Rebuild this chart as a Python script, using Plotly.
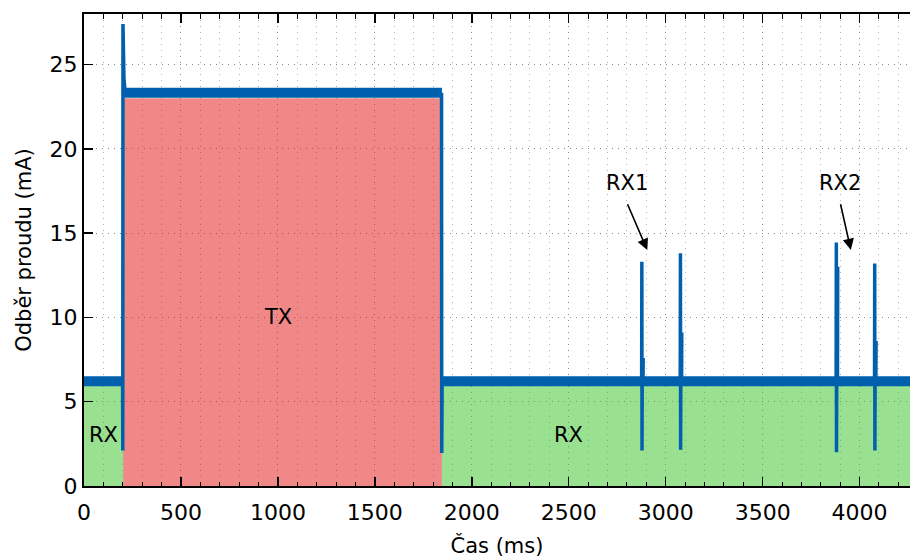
import plotly.graph_objects as go

# ---------------- data ----------------
# operating phases: name, start/end time (ms), fill height (mA), mean current (mA)
phase_names = ["RX", "TX", "RX"]
phase_start_ms = [0, 202, 1846]
phase_end_ms = [202, 1846, 4260]
phase_fill_ma = [6.0, 23.0, 6.0]
phase_current_ma = [6.22, 23.33, 6.22]

# transient at TX switch-on
tx_on_ms = [199, 200, 201, 203, 206, 212]
tx_on_ma = [6.22, 2.1, 27.4, 25.8, 24.2, 23.33]
# transient at TX switch-off
tx_off_ms = [1844, 1845, 1847]
tx_off_ma = [23.33, 1.96, 6.22]

# short receive windows (spikes)
spike_ms = [2877, 3076, 3880, 4078]
spike_max_ma = [13.3, 13.8, 14.45, 13.2]
spike_min_ma = [2.1, 2.15, 2.0, 2.1]
spike_bump_ma = [7.6, 9.1, 13.0, 8.6]

# annotations
label_text = ["RX", "TX", "RX", "RX1", "RX2"]
label_x_ms = [100, 1000, 2500, 2800, 3900]
label_y_ma = [3, 10, 3, 18, 18]
arrow_tail_x = [2800, 3900]
arrow_tail_y = [16.8, 16.8]
arrow_head_x = [2905, 3955]
arrow_head_y = [14.0, 14.0]

x_ticks = [0, 500, 1000, 1500, 2000, 2500, 3000, 3500, 4000]
y_ticks = [0, 5, 10, 15, 20, 25]

BLUE = "#0060ad"
FILL = {"RX": "rgba(52,196,34,0.5)", "TX": "rgba(226,18,18,0.5)"}
FONT = "DejaVu Sans"

fig = go.Figure()

# phase fills
for name, s, e, lvl in zip(phase_names, phase_start_ms, phase_end_ms, phase_fill_ma):
    fig.add_trace(go.Scatter(
        x=[s, e], y=[lvl, lvl], mode="lines", fill="tozeroy",
        fillcolor=FILL[name], line=dict(width=0), hoverinfo="skip",
        showlegend=False))

# thick noisy current band (plateaus)
band_x, band_y = [], []
for s, e, c in zip(phase_start_ms, phase_end_ms, phase_current_ma):
    band_x += [s, e, None]
    band_y += [c, c, None]
fig.add_trace(go.Scatter(x=band_x, y=band_y, mode="lines",
                         line=dict(color=BLUE, width=10), showlegend=False))

# transients + spikes (thin)
tr_x = list(tx_on_ms) + [None] + list(tx_off_ms) + [None]
tr_y = list(tx_on_ma) + [None] + list(tx_off_ma) + [None]
base = phase_current_ma[-1]
for t, mx, mn, bp in zip(spike_ms, spike_max_ma, spike_min_ma, spike_bump_ma):
    tr_x += [t - 1, t, t + 1, t + 2, None, t + 6, t + 7, None]
    tr_y += [base, mx, mn, base, None, base, bp, None]
fig.add_trace(go.Scatter(x=tr_x, y=tr_y, mode="lines",
                         line=dict(color=BLUE, width=3.5), showlegend=False))

annotations = []
for txt, x, y in zip(label_text, label_x_ms, label_y_ma):
    annotations.append(dict(x=x, y=y, xref="x", yref="y", text=txt,
                            showarrow=False, font=dict(family=FONT, size=21, color="black")))
for tx, ty, hx, hy in zip(arrow_tail_x, arrow_tail_y, arrow_head_x, arrow_head_y):
    annotations.append(dict(x=hx, y=hy, ax=tx, ay=ty, xref="x", yref="y",
                            axref="x", ayref="y", text="", showarrow=True,
                            arrowhead=2, arrowsize=1.4, arrowwidth=1.6,
                            arrowcolor="black", standoff=0, startstandoff=0))

grid_common = dict(gridcolor="#8c8c8c", gridwidth=1, griddash="1px,5px")

fig.update_layout(
    width=910, height=558,
    margin=dict(l=84, r=0, t=14, b=72, autoexpand=False),
    paper_bgcolor="white", plot_bgcolor="white",
    font=dict(family=FONT, size=21, color="black"),
    annotations=annotations,
    hovermode=False,
    xaxis=dict(
        range=[0, 4260], tickvals=x_ticks, ticks="inside", ticklen=9,
        tickwidth=1.5, tickcolor="black", showline=True, linewidth=2,
        linecolor="black", mirror="ticks", zeroline=False, showgrid=True,
        **grid_common, ticklabelstandoff=6, automargin=False,
        minor=dict(dtick=100, tick0=0, ticks="inside", ticklen=4.5,
                   tickwidth=1, tickcolor="black", showgrid=True,
                   gridcolor="#b4b4b4", gridwidth=1, griddash="1px,5px"),
        title=dict(text="Čas (ms)", standoff=15, font=dict(size=21)),
        tickfont=dict(size=22),
    ),
    yaxis=dict(
        range=[0, 28], tickvals=y_ticks, ticks="inside", ticklen=9,
        tickwidth=1.5, tickcolor="black", showline=True, linewidth=2,
        linecolor="black", mirror=False, zeroline=False, showgrid=True,
        **grid_common, ticklabelstandoff=0, automargin=False,
        title=dict(text="Odběr proudu (mA)", standoff=12, font=dict(size=21)),
        tickfont=dict(size=22),
    ),
)

# remove the browser's default 8px body margin so the figure fills the window
fig.write_html("out.html",
               config={"displayModeBar": False, "staticPlot": True},
               post_script="document.body.style.margin='0px';"
                           "document.body.style.overflow='hidden';")
